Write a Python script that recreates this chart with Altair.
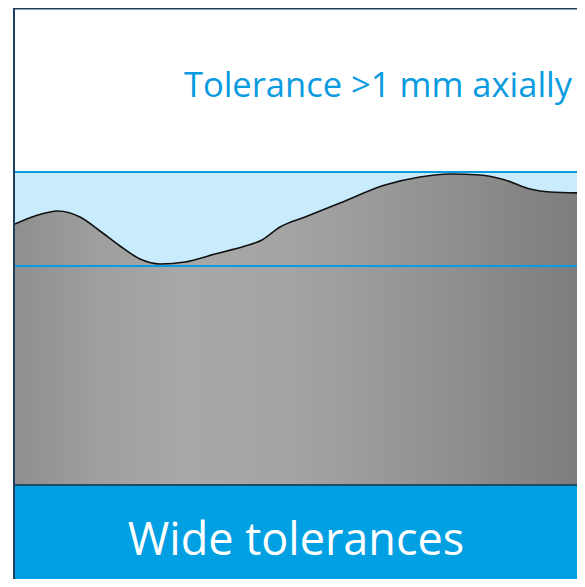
import altair as alt
import pandas as pd

# surface profile (image pixel coordinates)
profile_x = [15, 35, 58, 80, 100, 120, 140, 160, 185, 215, 245, 262, 280, 305, 340,
             385, 420, 450, 480, 505, 530, 550, 585]
profile_y = [224, 216, 211, 217, 231, 246, 259, 264, 262, 254, 246, 240, 227, 217, 203,
             185, 177, 174, 175, 180, 189, 192, 193]

zone_top, zone_bottom = 172, 266
base_bottom = 485
frame_left, frame_top, right_edge, bottom_edge = 15, 8, 585, 587

top_label = "Tolerance >1 mm axially"
top_label_pos = (378, 97)
bottom_label = "Wide tolerances"
bottom_label_pos = (296, 555)

W, H = 569, 571
xs = alt.Scale(domain=[8, 8 + W], nice=False, zero=False)
ys = alt.Scale(domain=[8, 8 + H], nice=False, zero=False, reverse=True)


def rect(x0, x1, y0, y1, color):
    df = pd.DataFrame({"x0": [x0], "x1": [x1], "y0": [y0], "y1": [y1]})
    return alt.Chart(df).mark_rect(color=color, clip=True).encode(
        x=alt.X("x0:Q", scale=xs, axis=None), x2="x1:Q",
        y=alt.Y("y0:Q", scale=ys, axis=None), y2="y1:Q")


def hrule(x0, x1, y, color, width):
    df = pd.DataFrame({"x0": [x0], "x1": [x1], "y": [y]})
    return alt.Chart(df).mark_rule(color=color, strokeWidth=width, clip=True).encode(
        x=alt.X("x0:Q", scale=xs, axis=None), x2="x1:Q",
        y=alt.Y("y:Q", scale=ys, axis=None))


def vrule(x, y0, y1, color, width):
    df = pd.DataFrame({"x": [x], "y0": [y0], "y1": [y1]})
    return alt.Chart(df).mark_rule(color=color, strokeWidth=width, clip=True).encode(
        x=alt.X("x:Q", scale=xs, axis=None),
        y=alt.Y("y0:Q", scale=ys, axis=None), y2="y1:Q")


band = rect(frame_left, right_edge, zone_top, zone_bottom, "#c8ecfc")

prof = pd.DataFrame({"x": profile_x, "y": profile_y, "base": [base_bottom] * len(profile_x)})
gray = alt.Gradient(
    gradient="linear", x1=0, x2=1, y1=0, y2=0,
    stops=[alt.GradientStop(color="#8f8f8f", offset=0),
           alt.GradientStop(color="#9f9f9f", offset=0.15),
           alt.GradientStop(color="#a8a8a8", offset=0.3),
           alt.GradientStop(color="#a4a4a4", offset=0.48),
           alt.GradientStop(color="#959595", offset=0.7),
           alt.GradientStop(color="#7c7c7c", offset=1)])
area = alt.Chart(prof).mark_area(color=gray, interpolate="monotone", clip=True).encode(
    x=alt.X("x:Q", scale=xs, axis=None),
    y=alt.Y("y:Q", scale=ys, axis=None), y2="base:Q")
line = alt.Chart(prof).mark_line(color="#111111", strokeWidth=1.6, interpolate="monotone",
                                 clip=True).encode(
    x=alt.X("x:Q", scale=xs, axis=None),
    y=alt.Y("y:Q", scale=ys, axis=None))

line_top = hrule(frame_left, right_edge, zone_top, "#0a9be0", 2.2)
line_bot = hrule(frame_left, right_edge, zone_bottom, "#0a9be0", 2.2)

blue_box = rect(frame_left, right_edge, base_bottom, bottom_edge, "#00a0e3")
sep = hrule(frame_left, right_edge, base_bottom, "#1f4a6b", 2)
frame_l = vrule(frame_left - 1, frame_top, bottom_edge, "#1e3f5f", 2)
frame_t = hrule(frame_left - 1, right_edge, frame_top + 0.5, "#1e3f5f", 2)

labels = pd.DataFrame({
    "x": [top_label_pos[0]], "y": [top_label_pos[1]], "t": [top_label]})
t1 = alt.Chart(labels).mark_text(
    font="Open Sans", fontSize=34.5, color="#0a9be0", align="center", baseline="alphabetic").encode(
    x=alt.X("x:Q", scale=xs, axis=None), y=alt.Y("y:Q", scale=ys, axis=None), text="t:N")
labels2 = pd.DataFrame({
    "x": [bottom_label_pos[0]], "y": [bottom_label_pos[1]], "t": [bottom_label]})
t2 = alt.Chart(labels2).mark_text(
    font="Open Sans", fontSize=45, color="white", align="center", baseline="alphabetic").encode(
    x=alt.X("x:Q", scale=xs, axis=None), y=alt.Y("y:Q", scale=ys, axis=None), text="t:N")

chart = alt.layer(band, area, line, line_top, line_bot, blue_box, sep, frame_l, frame_t, t1, t2).properties(
    width=W, height=H, padding=0, autosize=alt.AutoSizeParams(type="none"),
    background="white"
).configure_view(stroke=None)

chart.save("out.html", embed_options={"renderer": "svg", "actions": False})
